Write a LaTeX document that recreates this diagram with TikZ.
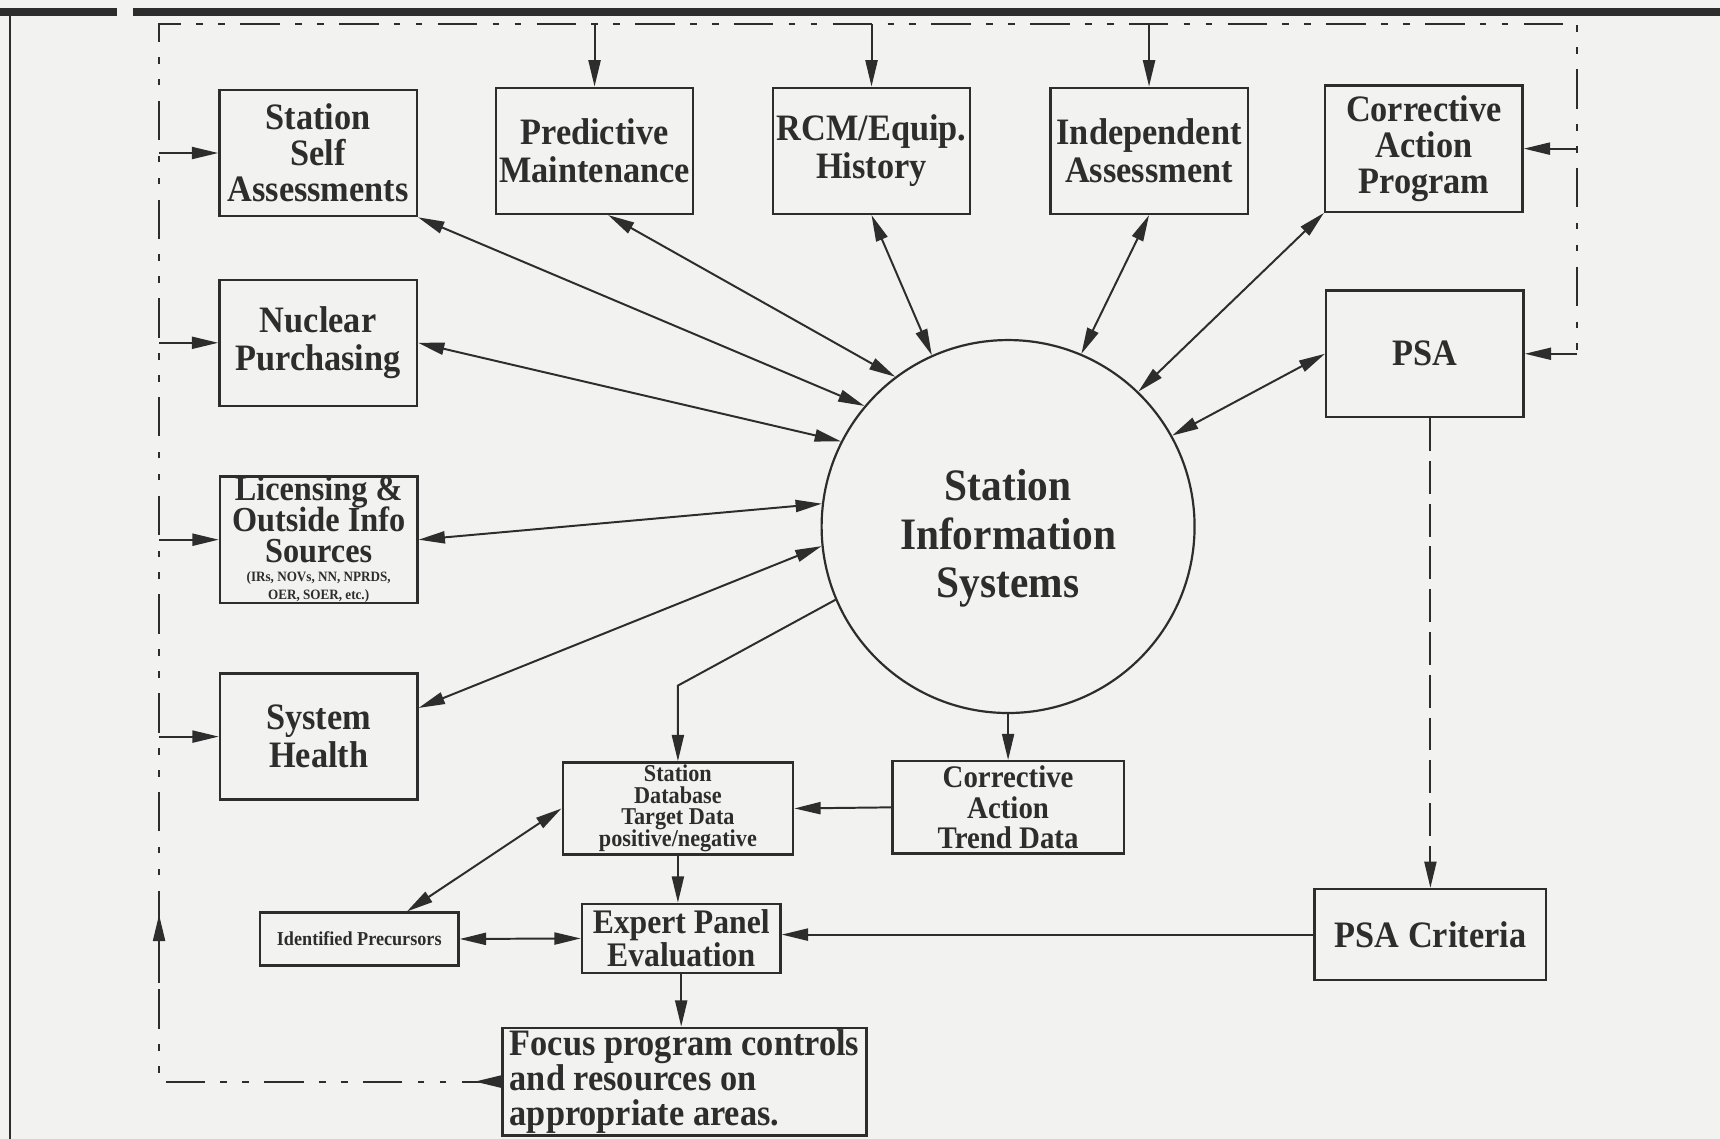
\documentclass[tikz,border=0pt]{standalone}
\usepackage{fontspec}
\setmainfont{Liberation Serif}[FakeStretch=0.92]
\usetikzlibrary{arrows.meta,decorations.markings}
\definecolor{paper}{RGB}{242,242,240}
\definecolor{ink}{RGB}{45,45,45}
\lineskiplimit=-\maxdimen

\begin{document}
\begin{tikzpicture}[x=0.5pt,y=-0.5pt,
        block/.style={draw=ink,line width=1.1pt,text=ink,align=center,inner sep=0pt,minimum width=90pt,minimum height=57.5pt,font=\fontsize{17}{17.5}\selectfont\bfseries},
        threeline/.style={font=\fontsize{17}{16.5}\selectfont\bfseries},
        link/.style={draw=ink,line width=0.9pt,{Triangle[length=12pt,width=5.5pt]}-{Triangle[length=12pt,width=5.5pt]}},
        flow/.style={draw=ink,line width=0.9pt,-{Triangle[length=12pt,width=5.5pt]}},
        loopline/.style={draw=ink,line width=0.9pt,dash pattern=on 18pt off 7pt on 3pt off 7pt on 3pt off 7pt}]
    \fill[paper] (0,0) rectangle (1568,1038);
    \useasboundingbox (0,0) rectangle (1568,1038);
    \draw[ink,line width=3.6pt] (0,11) -- (107,11);
    \draw[ink,line width=3.6pt] (121,11) -- (1568,11);
    \draw[ink,line width=1pt] (9,11) -- (9,1038);

    \node[block,threeline] (self) at (290,139.5) {Station\\Self\\Assessments};
    \node[block] (pred) at (542,137.5) {Predictive\\Maintenance};
    \node[block] (rcm) at (794.5,137.5) {RCM/Equip.\\History};
    \node[block] (indep) at (1047.5,137.5) {Independent\\Assessment};
    \node[block,threeline] (cap) at (1298,135.5) {Corrective\\Action\\Program};
    \node[block] (nuc) at (290,312.5) {Nuclear\\Purchasing};
    \node[block] (psa) at (1299,322.5) {PSA};
    \node[block,font=\fontsize{16}{14}\selectfont\bfseries] (lic) at (290.5,492) {Licensing \&\\Outside Info\\Sources\\[-5.5pt]{\fontsize{6.5}{8}\selectfont (IRs, NOVs, NN, NPRDS,}\\[-5.5pt]{\fontsize{6.5}{8}\selectfont OER, SOER, etc.)}};
    \node[block] (sys) at (290.5,671.5) {System\\Health};
    \node[draw=ink,line width=1pt,circle,minimum size=170pt,inner sep=0pt,align=center,text=ink,font=\fontsize{20.5}{22}\selectfont\bfseries] (sis) at (919,480) {\mbox{}\\[3pt]Station\\Information\\Systems};
    \node[block,minimum width=105pt,minimum height=42pt,font=\fontsize{11}{9.8}\selectfont\bfseries] (db) at (618,737) {Station\\Database\\Target Data\\positive/negative};
    \node[block,minimum width=105.5pt,minimum height=42pt,font=\fontsize{14.3}{13.75}\selectfont\bfseries] (catd) at (919,736) {Corrective\\Action\\Trend Data};
    \node[block,minimum width=90.5pt,minimum height=24pt,font=\fontsize{9}{9}\selectfont\bfseries] (prec) at (327.5,856) {Identified Precursors};
    \node[block,minimum width=90.5pt,minimum height=31.5pt,font=\fontsize{15.7}{15}\selectfont\bfseries] (epe) at (621,855.5) {Expert Panel\\Evaluation};
    \node[block,minimum width=105.5pt,minimum height=41.5pt] (psac) at (1304,852) {PSA Criteria};
    \node[block,align=left,minimum width=166pt,minimum height=49pt,font=\fontsize{17}{16}\selectfont\bfseries] (focus) at (624,986) {Focus program controls\\and resources on\\appropriate areas.};

    \draw[link] (self.south east) -- (sis.140.7);
    \draw[link] (pred.-78) -- (sis.127.5);
    \draw[link] (rcm.south) -- (sis.114.8);
    \draw[link] (indep.south) -- (sis.67.1);
    \draw[link] (cap.south west) -- (sis.46.4);
    \draw[link] (psa.west) -- (sis.29.6);
    \draw[link] (nuc.east) -- (sis.153.1);
    \draw[link] (lic.east) -- (sis.173.9);
    \draw[link] (sys.16) -- (sis.186.7);
    \draw[flow] (sis.203) -- (db.north |- 0,625) -- (db.north);
    \draw[flow] (sis.south) -- (catd.north);
    \draw[flow] (catd.west) -- (db.east);
    \draw[link] (db.west) -- (prec.30);
    \draw[flow] (db.south) -- (db.south |- epe.north);
    \draw[link] (prec.east) -- (epe.west);
    \draw[flow] (psac.west) -- (psac.west -| epe.east);
    \draw[flow] (epe.south) -- (epe.south |- focus.north);
    \draw[flow,dash pattern=on 15pt off 4.5pt] (psac.north |- psa.south) -- (psac.north);

    \coordinate (tl) at (145,22);
    \coordinate (tr) at (1438,22);
    \coordinate (bl) at (145,986);
    \draw[loopline,postaction={decorate},decoration={markings,
            mark=at position 12pt with {\arrow{Triangle[length=12pt,width=5.5pt]}},
            mark=at position 232pt with {\draw[solid,ink,line width=0.9pt,-{Triangle[length=12pt,width=5.5pt]}] (-31pt,0pt) -- (0pt,0pt);}}]
        (focus.west) -- (bl) -- (tl) -- (tr) -- (tr |- psa.east);
    \draw[flow] (self.west -| tl) -- (self.west);
    \draw[flow] (nuc.west -| tl) -- (nuc.west);
    \draw[flow] (lic.west -| tl) -- (lic.west);
    \draw[flow] (sys.west -| tl) -- (sys.west);
    \draw[flow] (pred.north |- tl) -- (pred.north);
    \draw[flow] (rcm.north |- tl) -- (rcm.north);
    \draw[flow] (indep.north |- tl) -- (indep.north);
    \draw[flow] (cap.east -| tr) -- (cap.east);
    \draw[flow] (psa.east -| tr) -- (psa.east);
\end{tikzpicture}
\end{document}
